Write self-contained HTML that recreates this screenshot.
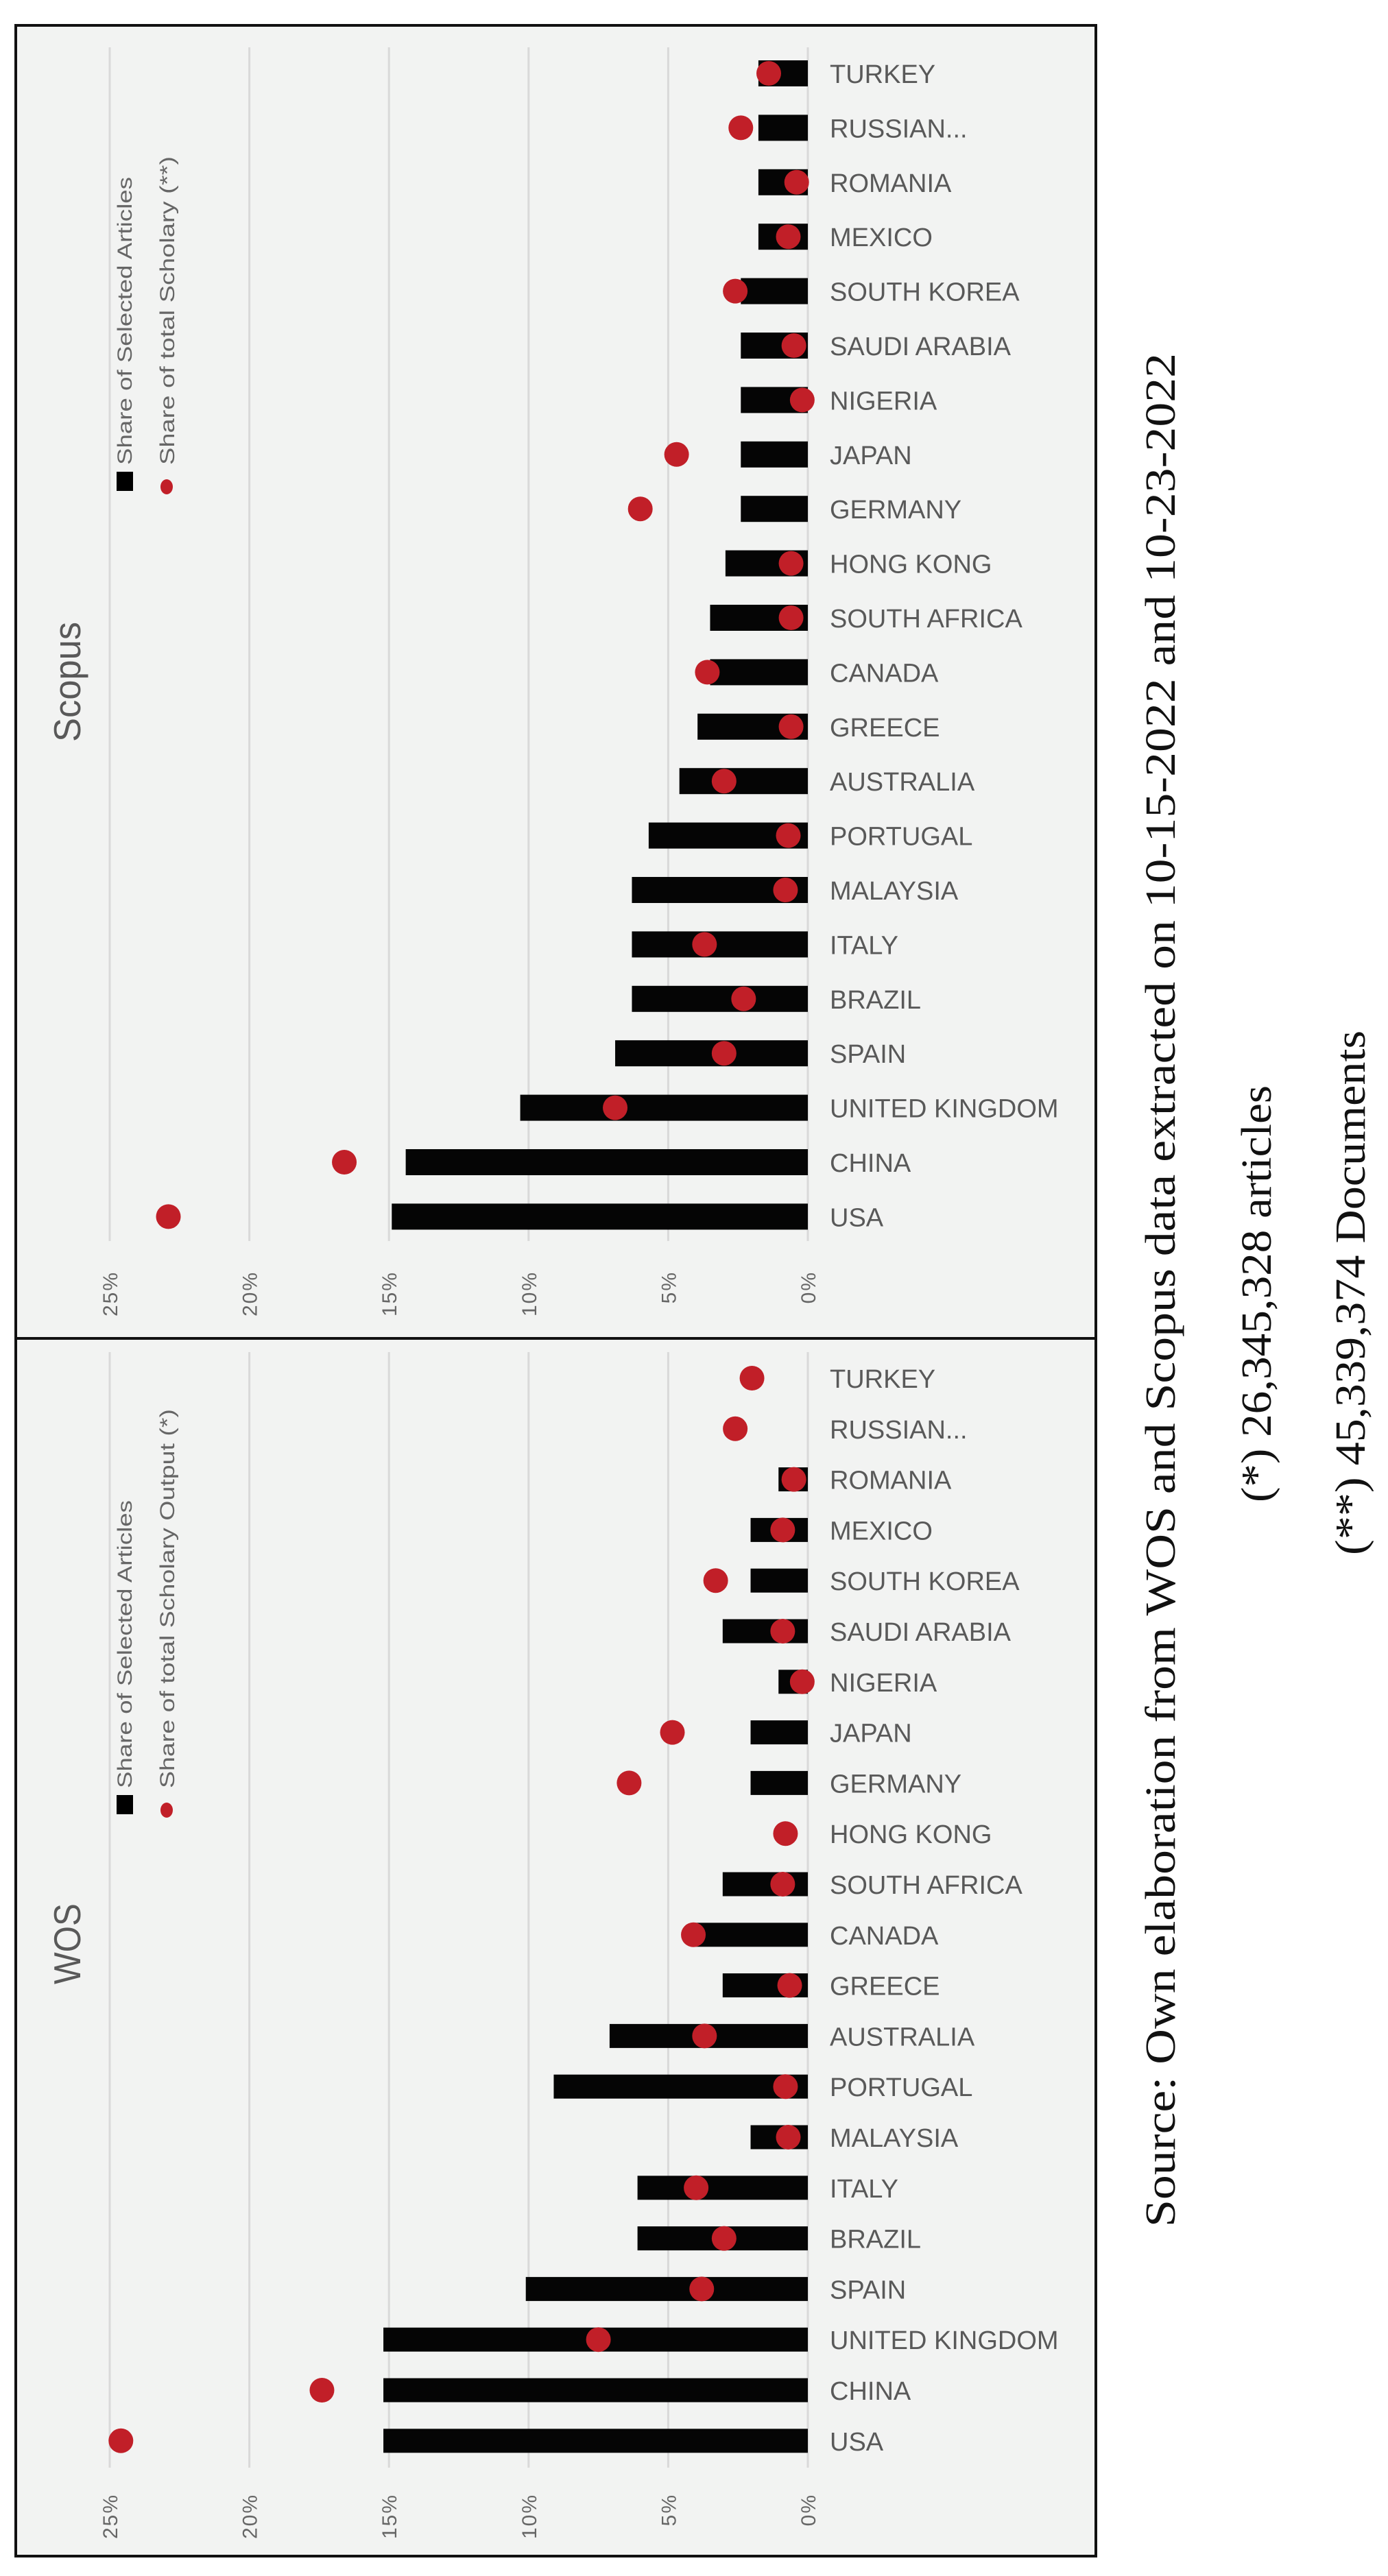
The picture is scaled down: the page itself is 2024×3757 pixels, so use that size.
<!DOCTYPE html>
<html><head><meta charset="utf-8"><style>
html,body{margin:0;padding:0;background:#fff;}
svg{display:block;}
text{font-family:"Liberation Sans",sans-serif;}
.serif{font-family:"Liberation Serif",serif;fill:#111;}
</style></head>
<body>
<svg id="chart" width="2024" height="3757" viewBox="0 0 2024 3757">
<rect x="0" y="0" width="2024" height="3757" fill="#fff"/>
<g id="scopus"></g>
<g id="wos"></g>
<g>
<text class="serif" font-size="62" x="1713" y="3248" transform="rotate(-90 1713 3248)" textLength="2733" lengthAdjust="spacingAndGlyphs">Source: Own elaboration from WOS and Scopus data extracted on 10-15-2022 and 10-23-2022</text>
<text class="serif" font-size="62" x="1853" y="2191" transform="rotate(-90 1853 2191)" textLength="608" lengthAdjust="spacingAndGlyphs">(*) 26,345,328 articles</text>
<text class="serif" font-size="62" x="1990" y="2268" transform="rotate(-90 1990 2268)" textLength="765" lengthAdjust="spacingAndGlyphs">(**) 45,339,374 Documents</text>
</g>
</svg>
<script>
const countries = ["TURKEY","RUSSIAN...","ROMANIA","MEXICO","SOUTH KOREA","SAUDI ARABIA","NIGERIA","JAPAN","GERMANY","HONG KONG","SOUTH AFRICA","CANADA","GREECE","AUSTRALIA","PORTUGAL","MALAYSIA","ITALY","BRAZIL","SPAIN","UNITED KINGDOM","CHINA","USA"];
const scopusArticles = [1.77,1.77,1.77,1.77,2.4,2.4,2.4,2.4,2.4,2.95,3.5,3.5,3.95,4.6,5.7,6.3,6.3,6.3,6.9,10.3,14.4,14.9];
const scopusScholarly = [1.4,2.4,0.4,0.7,2.6,0.5,0.2,4.7,6.0,0.6,0.6,3.6,0.6,3.0,0.7,0.8,3.7,2.3,3.0,6.9,16.6,22.9];
const wosArticles = [0,0,1.05,2.05,2.05,3.05,1.05,2.05,2.05,0,3.05,4.05,3.05,7.1,9.1,2.05,6.1,6.1,10.1,15.2,15.2,15.2];
const wosScholarly = [2.0,2.6,0.5,0.9,3.3,0.9,0.2,4.85,6.4,0.8,0.9,4.1,0.65,3.7,0.8,0.7,4.0,3.0,3.8,7.5,17.4,24.6];
const tickValues = [0,5,10,15,20,25];
const tickLabels = ["0%","5%","10%","15%","20%","25%"];

const NS="http://www.w3.org/2000/svg";
function mk(parent,tag,attrs){const e=document.createElementNS(NS,tag);for(const k in attrs)e.setAttribute(k,attrs[k]);parent.appendChild(e);return e;}
const x0=1178, pxPerPct=40.72;
function xScale(v){return x0 - v*pxPerPct;}

function panel(gid,cfg,articles,scholarly){
  const g=document.getElementById(gid);
  const bg=mk(g,'rect',{x:23,y:cfg.top,width:1575,height:cfg.bottom-cfg.top,fill:'#f2f3f2',stroke:'#111','stroke-width':4});
  
  
  tickValues.forEach((t,i)=>{
    const x=xScale(t);
    const l=mk(g,'line',{x1:x,x2:x,y1:cfg.gTop,y2:cfg.gBot,stroke:'#d9d9d9','stroke-width':3});
    
    
    const tx=mk(g,'text',{x:x+11,y:cfg.tickY,'font-size':30,fill:'#666','text-anchor':'end',transform:`rotate(-90 ${x+11} ${cfg.tickY})`,'letter-spacing':2});
    tx.textContent=tickLabels[i];
    
    
  });
  countries.forEach((c,i)=>{
    const cy=cfg.row0+i*cfg.step;
    if(articles[i]>0){
      const b=mk(g,'rect',{x:xScale(articles[i]),y:cy-cfg.barH/2,width:x0-xScale(articles[i]),height:cfg.barH,fill:'#050505'});
      
      
    }
    const d=mk(g,'ellipse',{cx:xScale(scholarly[i]),cy:cy,rx:18,ry:18,fill:'#c11f28'});
    
    
    const t=mk(g,'text',{x:1210,y:cy+14,'font-size':38,fill:'#595959'});
    t.textContent=c;
    
    
  });
  const title=mk(g,'text',{x:117,y:cfg.titleY,'font-size':55,fill:'#595959',transform:`rotate(-90 117 ${cfg.titleY})`,textLength:cfg.titleLen,lengthAdjust:'spacingAndGlyphs'});
  title.textContent=cfg.title;
  
  
  const sq=mk(g,'rect',{x:170,y:cfg.legY-2,width:24,height:28,fill:'#000'});
  
  
  const dt=mk(g,'ellipse',{cx:243,cy:cfg.legY+20,rx:9,ry:11,fill:'#c11f28'});
  
  
  const l1=mk(g,'text',{x:192,y:cfg.legY-12,'font-size':30,fill:'#666',transform:`rotate(-90 192 ${cfg.legY-12})`,textLength:cfg.l1Len,lengthAdjust:'spacingAndGlyphs'});
  l1.textContent='Share of Selected Articles';
  
  
  const l2=mk(g,'text',{x:254,y:cfg.legY-12,'font-size':30,fill:'#666',transform:`rotate(-90 254 ${cfg.legY-12})`,textLength:cfg.l2Len,lengthAdjust:'spacingAndGlyphs'});
  l2.textContent=cfg.l2;
  
  
}
panel('scopus',{top:37,bottom:1952,gTop:69,gBot:1810,tickY:1854,row0:107,step:79.4,barH:38,title:'Scopus',titleY:1082,titleLen:175,legY:690,l1Len:420,l2Len:450,l2:'Share of total Scholary (**)'},scopusArticles,scopusScholarly);
panel('wos',{top:1952,bottom:3728,gTop:1972,gBot:3599,tickY:3637,row0:2010,step:73.8,barH:35,title:'WOS',titleY:2894,titleLen:118,legY:2620,l1Len:420,l2Len:553,l2:'Share of total Scholary Output (*)'},wosArticles,wosScholarly);
</script>
</body></html>
